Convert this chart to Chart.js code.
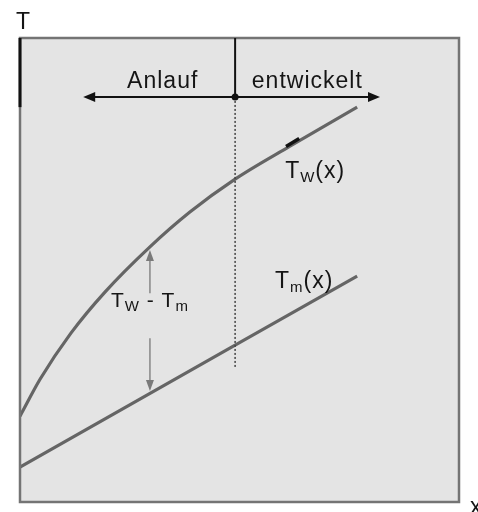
<!DOCTYPE html>
<html>
<head>
<meta charset="utf-8">
<script src="https://cdn.jsdelivr.net/npm/chart.js@4/dist/chart.umd.min.js"></script>
<style>
  html, body { margin: 0; padding: 0; background: #fff; }
  canvas { display: block; }
</style>
</head>
<body>
<canvas id="tempChart" width="478" height="512"></canvas>
<script>
// position along the tube (0..100) and temperatures (0..100, arbitrary units)
const xPos = [0, 4.6, 11.6, 19.4, 29.6, 38.7, 49.0, 61.5, 76.8];
const wallTemp = [18.5, 26.5, 36.4, 45.3, 55.0, 62.5, 69.6, 76.7, 85.1];
const meanX = [0, 49.0, 76.8];
const meanTemp = [7.5, 33.8, 48.7];

// where the entrance region ends
const xDeveloped = 49.0;
const arrowLevel = 87.3;
const arrowFrom = 14.4;
const arrowTo = 82.0;
const dottedEnd = 28.9;

// double arrow showing Tw - Tm
const diffX = 29.6;
const diffTop = 54.3;
const diffBottom = 23.9;
const diffGapTop = 45.0;
const diffGapBottom = 35.3;

const FONT = '"Liberation Sans", Arial, Helvetica, sans-serif';

function drawRich(ctx, parts, x, y, size, align) {
  ctx.letterSpacing = '1px';
  let widths = parts.map(p => {
    ctx.font = (p.sub ? 15 : size) + 'px ' + FONT;
    return ctx.measureText(p.t).width;
  });
  let total = widths.reduce((a, b) => a + b, 0);
  let cx = align === 'center' ? x - total / 2 : x;
  ctx.textAlign = 'left';
  ctx.textBaseline = 'alphabetic';
  parts.forEach((p, i) => {
    ctx.font = (p.sub ? 15 : size) + 'px ' + FONT;
    ctx.fillText(p.t, cx, p.sub ? y + 4 : y);
    cx += widths[i];
  });
  ctx.letterSpacing = '0px';
}

function arrowHead(ctx, x, y, dir, len, half) {
  // dir: 'left', 'right', 'up', 'down' (tip at x,y)
  ctx.beginPath();
  ctx.moveTo(x, y);
  if (dir === 'left') { ctx.lineTo(x + len, y - half); ctx.lineTo(x + len, y + half); }
  if (dir === 'right') { ctx.lineTo(x - len, y - half); ctx.lineTo(x - len, y + half); }
  if (dir === 'up') { ctx.lineTo(x - half, y + len); ctx.lineTo(x + half, y + len); }
  if (dir === 'down') { ctx.lineTo(x - half, y - len); ctx.lineTo(x + half, y - len); }
  ctx.closePath();
  ctx.fill();
}

const backdrop = {
  id: 'backdrop',
  beforeDraw(chart) {
    const { ctx, chartArea: a } = chart;
    ctx.save();
    ctx.fillStyle = '#ffffff';
    ctx.fillRect(0, 0, chart.width, chart.height);
    ctx.fillStyle = '#e4e4e4';
    ctx.fillRect(a.left, a.top, a.right - a.left, a.bottom - a.top);
    ctx.restore();
  }
};

const overlay = {
  id: 'overlay',
  afterDatasetsDraw(chart) {
    const { ctx, chartArea: a, scales: { x, y } } = chart;
    const px = v => x.getPixelForValue(v);
    const py = v => y.getPixelForValue(v);
    ctx.save();

    // frame
    ctx.strokeStyle = '#747474';
    ctx.lineWidth = 2.5;
    ctx.strokeRect(a.left, a.top, a.right - a.left, a.bottom - a.top);
    ctx.strokeStyle = '#111';
    ctx.lineWidth = 3;
    ctx.beginPath();
    ctx.moveTo(a.left, a.top);
    ctx.lineTo(a.left, py(85.1));
    ctx.stroke();

    // boundary between entrance and developed region
    const xb = px(xDeveloped);
    ctx.strokeStyle = '#111';
    ctx.lineWidth = 2;
    ctx.beginPath();
    ctx.moveTo(xb, a.top);
    ctx.lineTo(xb, py(arrowLevel));
    ctx.stroke();
    ctx.strokeStyle = '#444';
    ctx.lineWidth = 1.5;
    ctx.setLineDash([2, 2]);
    ctx.beginPath();
    ctx.moveTo(xb, py(arrowLevel));
    ctx.lineTo(xb, py(dottedEnd));
    ctx.stroke();
    ctx.setLineDash([]);

    // horizontal arrows
    const ya = py(arrowLevel);
    ctx.strokeStyle = '#111';
    ctx.fillStyle = '#111';
    ctx.lineWidth = 2;
    ctx.beginPath();
    ctx.moveTo(px(arrowFrom) + 6, ya);
    ctx.lineTo(px(arrowTo) - 6, ya);
    ctx.stroke();
    arrowHead(ctx, px(arrowFrom), ya, 'left', 12, 5);
    arrowHead(ctx, px(arrowTo), ya, 'right', 12, 5);
    ctx.beginPath();
    ctx.arc(xb, ya, 3.5, 0, Math.PI * 2);
    ctx.fill();

    // short marker on the wall temperature curve
    ctx.strokeStyle = '#111';
    ctx.lineWidth = 3.5;
    ctx.beginPath();
    ctx.moveTo(px(60.6), py(76.4) - 1);
    ctx.lineTo(px(63.6), py(78.1) - 1);
    ctx.stroke();

    // Tw - Tm double arrow
    const xd = px(diffX);
    ctx.strokeStyle = '#7a7a7a';
    ctx.fillStyle = '#7a7a7a';
    ctx.lineWidth = 1.3;
    ctx.beginPath();
    ctx.moveTo(xd, py(diffTop) + 8);
    ctx.lineTo(xd, py(diffGapTop));
    ctx.moveTo(xd, py(diffGapBottom));
    ctx.lineTo(xd, py(diffBottom) - 8);
    ctx.stroke();
    arrowHead(ctx, xd, py(diffTop), 'up', 11, 4);
    arrowHead(ctx, xd, py(diffBottom), 'down', 11, 4);

    // labels
    ctx.fillStyle = '#151515';
    ctx.letterSpacing = '1px';
    ctx.font = '23px ' + FONT;
    ctx.textBaseline = 'alphabetic';
    ctx.textAlign = 'left';
    ctx.fillText('Anlauf', px(24.4), py(89.2));
    ctx.fillText('entwickelt', px(52.8), py(89.2));
    ctx.letterSpacing = '0px';

    drawRich(ctx, [{ t: 'T' }, { t: 'W', sub: true }, { t: '(x)' }], px(60.4), py(69.8), 23);
    drawRich(ctx, [{ t: 'T' }, { t: 'm', sub: true }, { t: '(x)' }], px(58.1), py(46.2), 23);
    drawRich(ctx, [{ t: 'T' }, { t: 'W', sub: true }, { t: ' - T' }, { t: 'm', sub: true }], xd, py(42.0), 21, 'center');

    // axis letters
    ctx.font = '23px ' + FONT;
    ctx.fillText('T', a.left - 4, a.top - 9);
    ctx.fillText('x', a.right + 11, a.bottom + 12);
    ctx.restore();
  }
};

const ctx = document.getElementById('tempChart').getContext('2d');

const tempChart = new Chart(ctx, {
  type: 'scatter',
  data: {
    datasets: [{
      label: 'Tw(x)',
      data: xPos.map((v, i) => ({ x: v, y: wallTemp[i] })),
      showLine: true,
      borderColor: '#656565',
      borderWidth: 3.2,
      pointRadius: 0,
      cubicInterpolationMode: 'monotone'
    }, {
      label: 'Tm(x)',
      data: meanX.map((v, i) => ({ x: v, y: meanTemp[i] })),
      showLine: true,
      borderColor: '#656565',
      borderWidth: 3.2,
      pointRadius: 0
    }]
  },
  options: {
    responsive: false,
    animation: false,
    layout: { padding: { left: 20, right: 19, top: 38, bottom: 10 } },
    scales: {
      x: { type: 'linear', min: 0, max: 100, display: false },
      y: { type: 'linear', min: 0, max: 100, display: false }
    },
    plugins: {
      legend: { display: false },
      tooltip: { enabled: false }
    }
  },
  plugins: [backdrop, overlay]
});
</script>
</body>
</html>
